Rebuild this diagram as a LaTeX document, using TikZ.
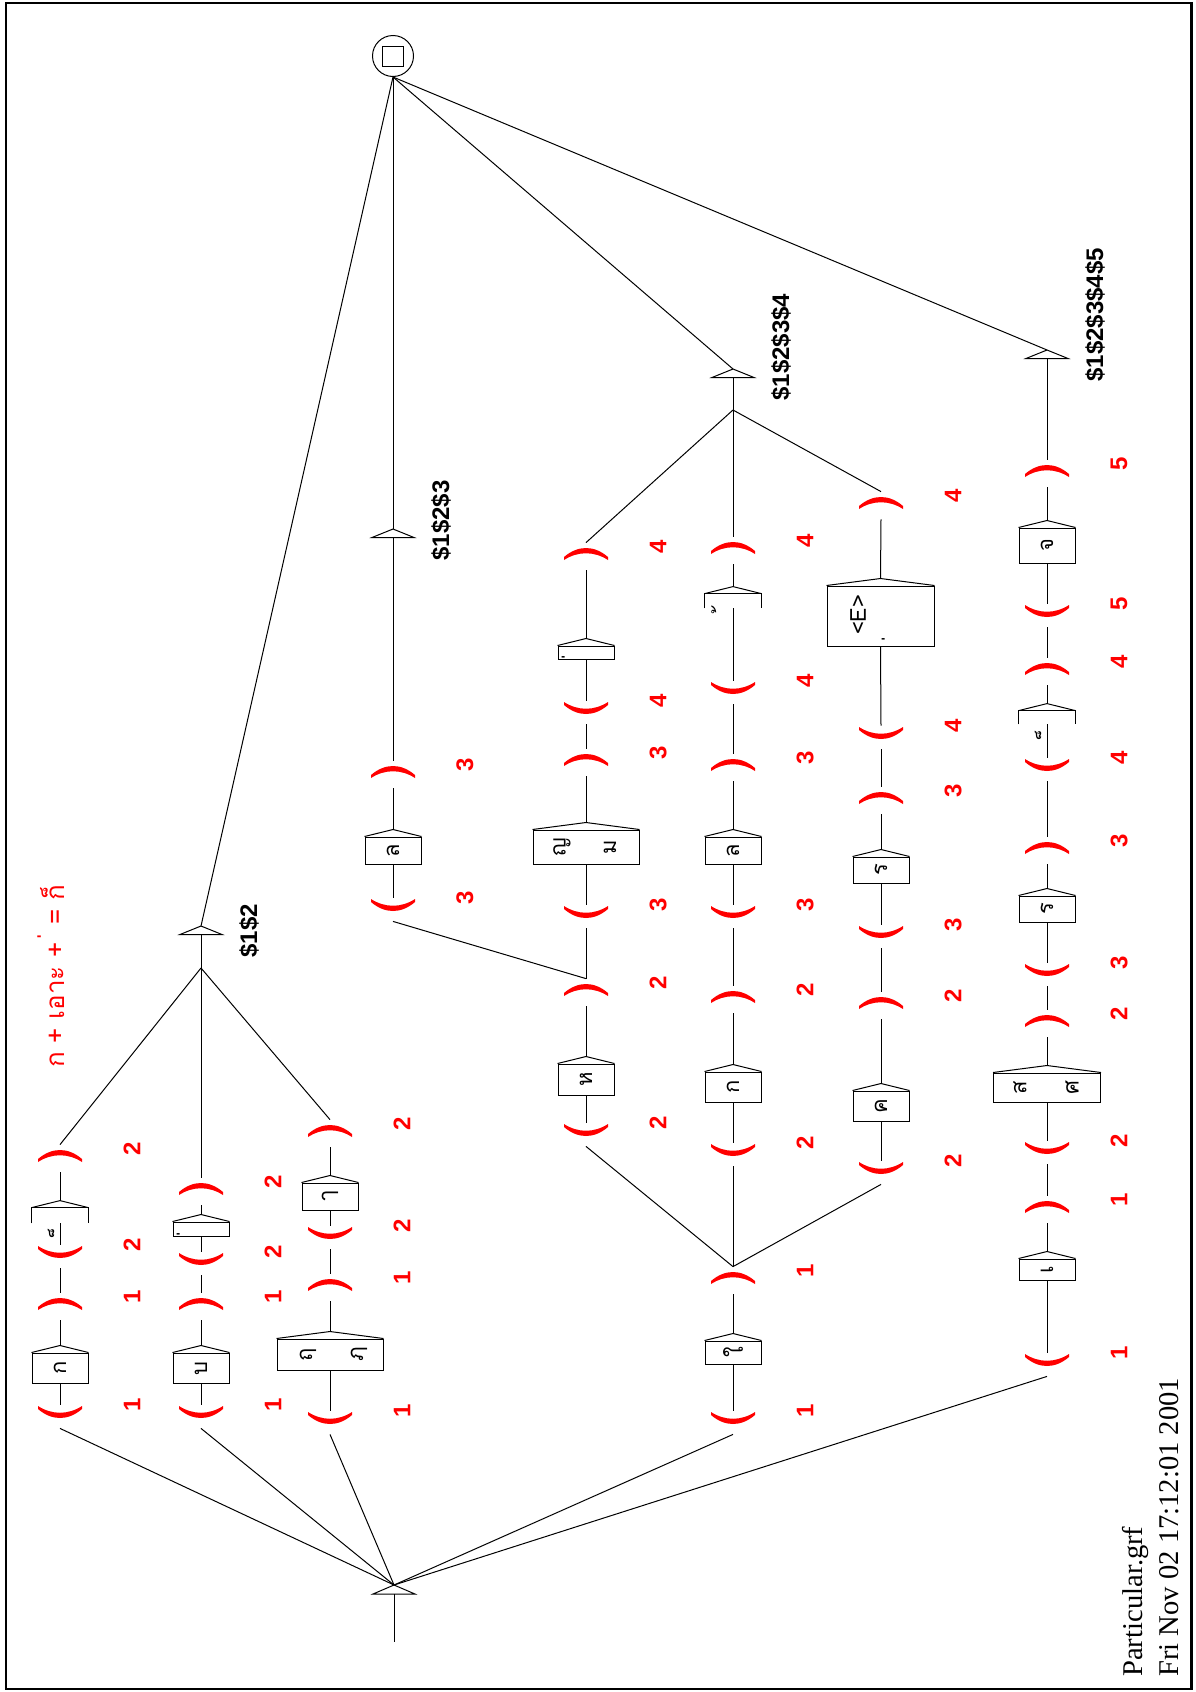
\documentclass[tikz,border=0pt]{standalone}
\usepackage{fontspec}
\setmainfont{Liberation Serif}
\newfontfamily\lsans{Liberation Sans}
\newfontfamily\thai[Script=Thai]{Loma}
\usetikzlibrary{calc}
\newcommand{\thaib}{\thai\fontsize{11}{13}\selectfont}
\newcommand{\numfont}{\lsans\bfseries\fontsize{12}{14}\selectfont}
\newcommand{\boxroof}[1]{\draw[ln] (#1.north west) -- ($(#1.north)+(0,-7)$) coordinate (#1a) -- (#1.north east);}
\newcommand{\cupat}[4]{\node[lparen] (#1) at (#2,{#3+4.5}) {}; \node[num] (#1n) at ({#2+72},{#3-7}) {#4};}
\newcommand{\capat}[4]{\node[rparen] (#1) at (#2,{#3+2.5}) {}; \node[num] (#1n) at ({#2+72},{#3-7}) {#4};}
\newcommand{\openbox}[1]{\draw[ln] (#1.south west) -- (#1.north west) -- (#1.north east) -- (#1.south east);}
\begin{document}
\begin{tikzpicture}[x=0.5pt,y=-0.5pt,
 ln/.style={line width=0.5pt},
 tbox/.style={draw,line width=0.5pt,inner sep=0pt,font=\thaib},
 ghost/.style={inner sep=0pt,font=\thaib},
 ttxt/.style={inner sep=0pt,rotate=90,font=\thaib},
 num/.style={inner sep=0pt,rotate=90,text=red,font=\numfont},
 outt/.style={inner sep=0pt,rotate=90,anchor=west,font=\numfont},
 foot/.style={inner sep=0pt,rotate=90,anchor=base west,font=\fontsize{14.3}{17}\selectfont},
 lparen/.style={inner sep=0pt,minimum width=24pt,minimum height=11.5pt,
   path picture={\fill[red] ($(path picture bounding box.center)+(-22,-7.5)$) .. controls +(14,12) and +(-14,12) .. ($(path picture bounding box.center)+(22,-7.5)$) -- ++(0,-3) .. controls +(-14,9) and +(14,9) .. ($(path picture bounding box.center)+(-22,-10.5)$) -- cycle;}},
 rparen/.style={inner sep=0pt,minimum width=24pt,minimum height=13.5pt,
   path picture={\fill[red] ($(path picture bounding box.center)+(-22,0.5)$) .. controls +(14,-12) and +(-14,-12) .. ($(path picture bounding box.center)+(22,0.5)$) -- ++(0,3) .. controls +(-14,-9) and +(14,-9) .. ($(path picture bounding box.center)+(-22,3.5)$) -- cycle;}}
]
\useasboundingbox (0,0) rectangle (1195,1692);
\draw[line width=1.25pt] (6,3) rectangle (1191.5,1689);

% final state
\node[draw,circle,line width=0.5pt,inner sep=0pt,minimum size=20.5pt] (F) at (393,56) {};
\node[draw,line width=0.5pt,inner sep=0pt,minimum width=10.5pt,minimum height=10pt] (Fsq) at (393,56.5) {};

% initial state
\coordinate (I) at (394,1585);
\coordinate (Ib) at (394,1594);
\coordinate (Is) at (394,1642);
\draw[ln] (I) -- (415,1594) -- (373,1594) -- cycle;
\draw[ln] (Ib) -- (Is);

% output boxes
\coordinate (O12) at (201,926);   \coordinate (O12b) at (201,934.5);
\coordinate (O123) at (393,529);  \coordinate (O123b) at (393,537.5);
\coordinate (O1234) at (733,369); \coordinate (O1234b) at (733,377.5);
\coordinate (O12345) at (1047,350); \coordinate (O12345b) at (1047,358.5);
\draw[ln] (O12) -- ++(21,8.5) -- ++(-42,0) -- cycle;
\draw[ln] (O123) -- ++(21,8.5) -- ++(-42,0) -- cycle;
\draw[ln] (O1234) -- ++(21,8.5) -- ++(-42,0) -- cycle;
\draw[ln] (O12345) -- ++(21,8.5) -- ++(-42,0) -- cycle;
\node[outt] (T12) at (249,958) {\$1\$2};
\node[outt] (T123) at (441,561) {\$1\$2\$3};
\node[outt] (T1234) at (781,401) {\$1\$2\$3\$4};
\node[outt] (T12345) at (1095,382) {\$1\$2\$3\$4\$5};
\coordinate (J12) at (201,968);
\coordinate (J1234) at (733,410);

% annotation
\node[rotate=90,anchor=west,inner sep=0pt,text=red,font=\thai\fontsize{13}{15}\selectfont] (note) at (51,1068) {ก + เอาะ + ่ = ก็};

% row 1
\cupat{R1o1}{60}{1412}{1}
\node[tbox,minimum width=28pt,minimum height=15pt] (R1b1) at (60,1368) {\rotatebox{90}{ก}};
\boxroof{R1b1}
\capat{R1c1}{60}{1304}{1}
\cupat{R1o2}{60}{1252}{2}
\node[ghost,minimum width=28pt,minimum height=7.5pt] (R1b2) at (60,1215.5) {};
\node[ttxt] (R1m2) at (58,1226) {็};
\openbox{R1b2}
\boxroof{R1b2}
\capat{R1c2}{60}{1156}{2}
\draw[ln] (R1o1.north) -- (R1b1.south);
\draw[ln] (R1b1a) -- (R1c1.south);
\draw[ln] (R1c1.north) -- (R1o2.south);
\draw[ln] (R1o2.north) -- (R1b2.south);
\draw[ln] (R1b2a) -- (R1c2.south);

% row 2
\cupat{R2o1}{201}{1412}{1}
\node[tbox,minimum width=28pt,minimum height=15pt] (R2b1) at (201,1368) {\rotatebox{90}{บ}};
\boxroof{R2b1}
\capat{R2c1}{201}{1304}{1}
\cupat{R2o2}{201}{1259}{2}
\node[tbox,minimum width=28pt,minimum height=7pt] (R2b2) at (201,1229) {};
\node[ttxt] (R2m2) at (188,1231) {่};
\boxroof{R2b2}
\capat{R2c2}{201}{1189}{2}
\draw[ln] (R2o1.north) -- (R2b1.south);
\draw[ln] (R2b1a) -- (R2c1.south);
\draw[ln] (R2c1.north) -- (R2o2.south);
\draw[ln] (R2o2.north) -- (R2b2.south);
\draw[ln] (R2b2a) -- (R2c2.south);

% row 3
\cupat{R3o1}{330}{1418}{1}
\node[tbox,minimum width=53pt,minimum height=15.5pt] (R3b1) at (330,1354.5) {};
\node[ttxt] (R3t1) at (308,1354.5) {ฤ};
\node[ttxt] (R3t2) at (359,1354.5) {ฦ};
\boxroof{R3b1}
\capat{R3c1}{330}{1285}{1}
\cupat{R3o2}{330}{1233}{2}
\node[tbox,minimum width=28pt,minimum height=13.5pt] (R3b2) at (330,1196.5) {\rotatebox{90}{ๅ}};
\boxroof{R3b2}
\capat{R3c2}{330}{1131}{2}
\draw[ln] (R3o1.north) -- (R3b1.south);
\draw[ln] (R3b1a) -- (R3c1.south);
\draw[ln] (R3c1.north) -- (R3o2.south);
\draw[ln] (R3o2.north) -- (R3b2.south);
\draw[ln] (R3b2a) -- (R3c2.south);

% join $1$2
\draw[ln] (R1c2.north) -- (J12);
\draw[ln] (R2c2.north) -- (J12);
\draw[ln] (R3c2.north) -- (J12);
\draw[ln] (J12) -- (O12b);

% row 4 ($1$2$3)
\cupat{R4o1}{393}{905}{3}
\node[tbox,minimum width=28pt,minimum height=13.5pt] (R4b1) at (393,850.5) {\rotatebox{90}{ล}};
\boxroof{R4b1}
\capat{R4c1}{393}{772}{3}
\draw[ln] (R4o1.north) -- (R4b1.south);
\draw[ln] (R4b1a) -- (R4c1.south);
\draw[ln] (R4c1.north) -- (O123b);

% row A
\cupat{RAo1}{586}{1130}{2}
\node[tbox,minimum width=28pt,minimum height=15.5pt] (RAb1) at (586,1079.5) {\rotatebox{90}{ห}};
\boxroof{RAb1}
\capat{RAc1}{586}{990}{2}
\cupat{RAo2}{586}{912}{3}
\node[tbox,minimum width=53pt,minimum height=17pt] (RAb2) at (586,847) {};
\node[ttxt] (RAt1) at (562,847) {ญ};
\node[ttxt] (RAt2) at (610,847) {ม};
\boxroof{RAb2}
\capat{RAc2}{586}{760}{3}
\cupat{RAo3}{586}{708}{4}
\node[tbox,minimum width=28pt,minimum height=6.5pt] (RAb3) at (586,652.5) {};
\node[ttxt] (RAm3) at (573,654) {่};
\boxroof{RAb3}
\capat{RAc3}{586}{554}{4}
\draw[ln] (RAo1.north) -- (RAb1.south);
\draw[ln] (RAb1a) -- (RAc1.south);
\draw[ln] (RAc1.north) -- (RAo2.south);
\draw[ln] (RAo2.north) -- (RAb2.south);
\draw[ln] (RAb2a) -- (RAc2.south);
\draw[ln] (RAc2.north) -- (RAo3.south);
\draw[ln] (RAo3.north) -- (RAb3.south);
\draw[ln] (RAb3a) -- (RAc3.south);
\draw[ln] (RAc1.north) -- (R4o1.south);

% row B
\cupat{RBo1}{733}{1418}{1}
\node[tbox,minimum width=28pt,minimum height=11.5pt] (RBb1) at (733,1352.5) {\rotatebox{90}{ใ}};
\boxroof{RBb1}
\capat{RBc1}{733}{1278}{1}
\cupat{RBo2}{733}{1150}{2}
\node[tbox,minimum width=28pt,minimum height=15pt] (RBb2) at (733,1087) {\rotatebox{90}{ก}};
\boxroof{RBb2}
\capat{RBc2}{733}{997}{2}
\cupat{RBo3}{733}{912}{3}
\node[tbox,minimum width=28pt,minimum height=13.5pt] (RBb3) at (733,850.5) {\rotatebox{90}{ล}};
\boxroof{RBb3}
\capat{RBc3}{733}{765}{3}
\cupat{RBo4}{733}{688}{4}
\node[ghost,minimum width=28pt,minimum height=7pt] (RBb4) at (733,601) {};
\node[ttxt] (RBm4) at (723,606) {้};
\openbox{RBb4}
\boxroof{RBb4}
\capat{RBc4}{733}{548}{4}
\draw[ln] (RBo1.north) -- (RBb1.south);
\draw[ln] (RBb1a) -- (RBc1.south);
\draw[ln] (RBc1.north) -- (RBo2.south);
\draw[ln] (RBo2.north) -- (RBb2.south);
\draw[ln] (RBb2a) -- (RBc2.south);
\draw[ln] (RBc2.north) -- (RBo3.south);
\draw[ln] (RBo3.north) -- (RBb3.south);
\draw[ln] (RBb3a) -- (RBc3.south);
\draw[ln] (RBc3.north) -- (RBo4.south);
\draw[ln] (RBo4.north) -- (RBb4.south);
\draw[ln] (RBb4a) -- (RBc4.south);

% row C
\cupat{RCo1}{881}{1168}{2}
\node[tbox,minimum width=28pt,minimum height=15pt] (RCb1) at (881,1106) {\rotatebox{90}{ค}};
\boxroof{RCb1}
\capat{RCc1}{881}{1003}{2}
\cupat{RCo2}{881}{932}{3}
\node[tbox,minimum width=28pt,minimum height=13pt] (RCb2) at (881,870) {\rotatebox{90}{ร}};
\boxroof{RCb2}
\capat{RCc2}{881}{798}{3}
\cupat{RCo3}{881}{733}{4}
\node[tbox,minimum width=53.5pt,minimum height=30pt] (RCb3) at (880.5,616) {};
\node[ttxt] (RCt1) at (858,615) {<E>};
\node[ttxt] (RCt2) at (893,636) {่};
\boxroof{RCb3}
\capat{RCc3}{881}{503}{4}
\draw[ln] (RCo1.north) -- (RCb1.south);
\draw[ln] (RCb1a) -- (RCc1.south);
\draw[ln] (RCc1.north) -- (RCo2.south);
\draw[ln] (RCo2.north) -- (RCb2.south);
\draw[ln] (RCb2a) -- (RCc2.south);
\draw[ln] (RCc2.north) -- (RCo3.south);
\draw[ln] (RCo3.north) -- (RCb3.south);
\draw[ln] (RCb3a) -- (RCc3.south);

% join row B split and $1$2$3$4
\draw[ln] (RAo1.south) -- (RBc1.north);
\draw[ln] (RCo1.south) -- (RBc1.north);
\draw[ln] (RAc3.north) -- (J1234);
\draw[ln] (RBc4.north) -- (J1234);
\draw[ln] (RCc3.north) -- (J1234);
\draw[ln] (J1234) -- (O1234b);

% row 5
\cupat{R5o1}{1047}{1360}{1}
\node[tbox,minimum width=28pt,minimum height=10.5pt] (R5b1) at (1047,1269.5) {\rotatebox{90}{เ}};
\boxroof{R5b1}
\capat{R5c1}{1047}{1207}{1}
\cupat{R5o2}{1047}{1148}{2}
\node[tbox,minimum width=53.5pt,minimum height=14.5pt] (R5b2) at (1047,1087.5) {};
\node[ttxt] (R5t1) at (1020,1087.5) {ส};
\node[ttxt] (R5t2) at (1072,1087.5) {ศ};
\boxroof{R5b2}
\capat{R5c2}{1047}{1021}{2}
\cupat{R5o3}{1047}{970}{3}
\node[tbox,minimum width=28pt,minimum height=13pt] (R5b3) at (1047,909) {\rotatebox{90}{ร}};
\boxroof{R5b3}
\capat{R5c3}{1047}{848}{3}
\cupat{R5o4}{1047}{765}{4}
\node[ghost,minimum width=28pt,minimum height=6.5pt] (R5b4) at (1047,717.5) {};
\node[ttxt] (R5m4) at (1045,728) {็};
\openbox{R5b4}
\boxroof{R5b4}
\capat{R5c4}{1047}{669}{4}
\cupat{R5o5}{1047}{611}{5}
\node[tbox,minimum width=28pt,minimum height=17.5pt] (R5b5) at (1047,545.5) {\rotatebox{90}{จ}};
\boxroof{R5b5}
\capat{R5c5}{1047}{471}{5}
\draw[ln] (R5o1.north) -- (R5b1.south);
\draw[ln] (R5b1a) -- (R5c1.south);
\draw[ln] (R5c1.north) -- (R5o2.south);
\draw[ln] (R5o2.north) -- (R5b2.south);
\draw[ln] (R5b2a) -- (R5c2.south);
\draw[ln] (R5c2.north) -- (R5o3.south);
\draw[ln] (R5o3.north) -- (R5b3.south);
\draw[ln] (R5b3a) -- (R5c3.south);
\draw[ln] (R5c3.north) -- (R5o4.south);
\draw[ln] (R5o4.north) -- (R5b4.south);
\draw[ln] (R5b4a) -- (R5c4.south);
\draw[ln] (R5c4.north) -- (R5o5.south);
\draw[ln] (R5o5.north) -- (R5b5.south);
\draw[ln] (R5b5a) -- (R5c5.south);
\draw[ln] (R5c5.north) -- (O12345b);

% initial transitions
\draw[ln] (I) -- (R1o1.south);
\draw[ln] (I) -- (R2o1.south);
\draw[ln] (I) -- (R3o1.south);
\draw[ln] (I) -- (RBo1.south);
\draw[ln] (I) -- (R5o1.south);

% final transitions
\draw[ln] (O12) -- (F.south);
\draw[ln] (O123) -- (F.south);
\draw[ln] (O1234) -- (F.south);
\draw[ln] (O12345) -- (F.south);

% footer
\node[foot] (ft1) at (1142,1677) {Particular.grf};
\node[foot] (ft2) at (1178,1677) {Fri Nov 02 17:12:01 2001};
\end{tikzpicture}
\end{document}
